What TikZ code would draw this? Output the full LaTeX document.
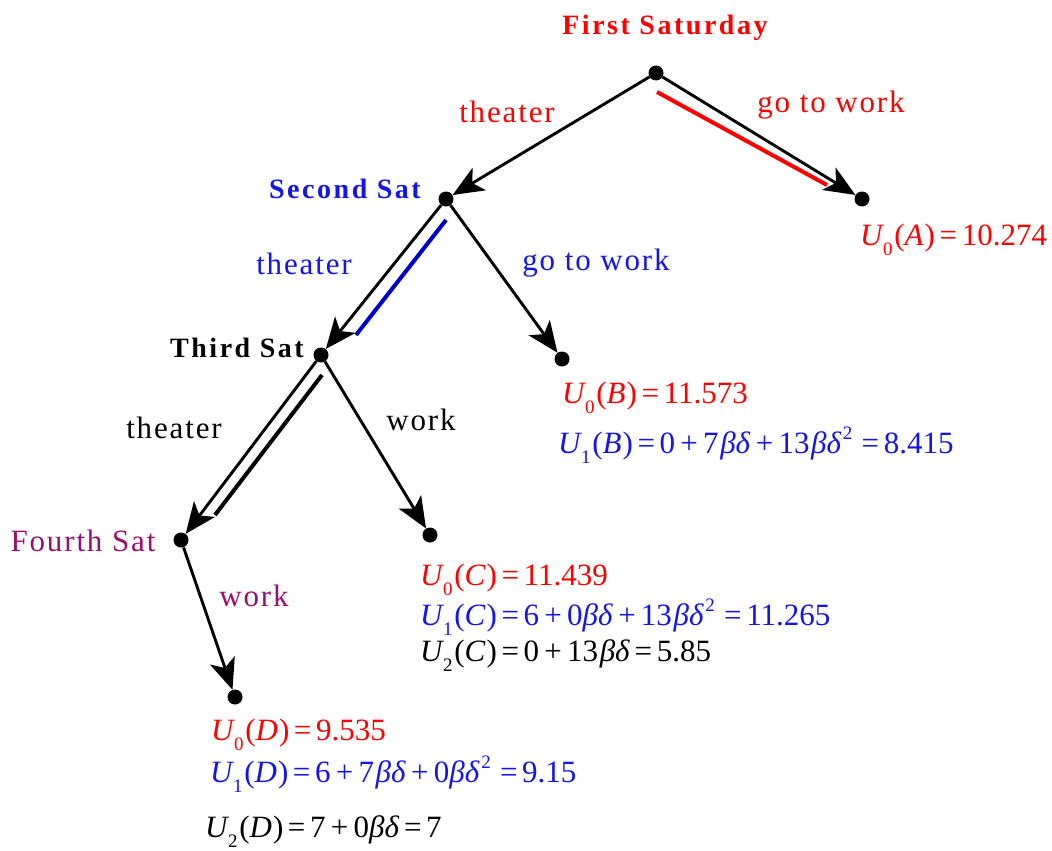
\documentclass[tikz,border=0pt]{standalone}
\usepackage{fontspec}
\setmainfont{Liberation Serif}
\usetikzlibrary{arrows.meta}
\definecolor{myred}{RGB}{255,0,0}
\definecolor{myblue}{RGB}{20,20,235}
\definecolor{hlblue}{RGB}{0,0,200}
\definecolor{mypurple}{RGB}{155,15,110}
\newcommand{\Ux}[2]{\textit{U}\kern-0.04em\raisebox{-0.33em}{\fontsize{19}{19}\selectfont #1}\kern0.06em(\textit{#2}\kern0.03em)}
\newcommand{\Eq}{\kern0.15em=\kern0.15em}
\newcommand{\Pl}{\kern0.17em+\kern0.17em}
\newcommand{\BD}{\textit{βδ}}
\newcommand{\BDD}{\textit{βδ}\kern0.05em\raisebox{0.45em}{\fontsize{19}{19}\selectfont 2}\kern0.15em}
\begin{document}
\begin{tikzpicture}[x=1pt,y=-1pt,
  dot/.style={circle,fill=black,inner sep=0pt,minimum size=15pt},
  conn/.style={line width=2.9pt,-{Stealth[length=31pt,width=26pt,inset=8pt]}},
  hl/.style={line width=4pt},
  lab/.style={anchor=base,inner sep=0pt,font=\fontsize{31}{36}\selectfont\addfontfeature{LetterSpace=6}},
  blab/.style={anchor=base,inner sep=0pt,font=\fontsize{28}{34}\selectfont\bfseries\addfontfeature{LetterSpace=9}},
  frm/.style={anchor=base west,inner sep=0pt,font=\fontsize{31}{37}\selectfont}]
\useasboundingbox (0,0) rectangle (1052,851);
% dots
\node[dot] (r) at (656,73) {};
\node[dot] (a) at (862,199) {};
\node[dot] (s2) at (446,199) {};
\node[dot] (b) at (562,359) {};
\node[dot] (s3) at (321,355) {};
\node[dot] (c) at (430,535) {};
\node[dot] (s4) at (181,540) {};
\node[dot] (d) at (235,697) {};
% connectors
\draw[conn] (r) -- (s2);
\draw[conn] (r) -- (a);
\draw[conn] (s2) -- (s3);
\draw[conn] (s2) -- (b);
\draw[conn] (s3) -- (s4);
\draw[conn] (s3) -- (c);
\draw[conn] (s4) -- (d);
% highlights
\coordinate (h1a) at (657,92); \coordinate (h1b) at (827,185);
\coordinate (h2a) at (446,220); \coordinate (h2b) at (356,335);
\coordinate (h3a) at (322,375); \coordinate (h3b) at (215,515);
\draw[hl,myred] (h1a) -- (h1b);
\draw[hl,hlblue] (h2a) -- (h2b);
\draw[hl,black] (h3a) -- (h3b);
% labels
\node[blab,myred] (t1) at (665,35) {First Saturday};
\node[lab,myred] (l1) at (507,122) {theater};
\node[lab,myred] (l2) at (831,112) {go to work};
\node[blab,myblue] (t2) at (345,198) {Second Sat};
\node[lab,myblue] (l3) at (304,274) {theater};
\node[lab,myblue] (l4) at (596,270) {go to work};
\node[blab,black] (t3) at (237,357) {Third Sat};
\node[lab,black] (l5) at (174,438) {theater};
\node[lab,black] (l6) at (421,430) {work};
\node[lab,mypurple] (t4) at (83,551) {Fourth Sat};
\node[lab,mypurple] (l7) at (254,606) {work};
% formulas
\node[frm,myred] (fa) at (860,245) {\Ux{0}{A}\Eq10.274};
\node[frm,myred] (fb0) at (562,403) {\Ux{0}{B}\Eq11.573};
\node[frm,myblue] (fb1) at (558,453) {\Ux{1}{B}\Eq0\Pl7\kern0.05em\BD\Pl13\kern0.05em\BDD\Eq8.415};
\node[frm,myred] (fc0) at (420,585) {\Ux{0}{C}\Eq11.439};
\node[frm,myblue] (fc1) at (420,625) {\Ux{1}{C}\Eq6\Pl0\BD\Pl13\kern0.05em\BDD\Eq11.265};
\node[frm,black] (fc2) at (420,661) {\Ux{2}{C}\Eq0\Pl13\kern0.05em\BD\Eq5.85};
\node[frm,myred] (fd0) at (211,740) {\Ux{0}{D}\Eq9.535};
\node[frm,myblue] (fd1) at (210,782) {\Ux{1}{D}\Eq6\Pl7\kern0.05em\BD\Pl0\BDD\Eq9.15};
\node[frm,black] (fd2) at (205,837) {\Ux{2}{D}\Eq7\Pl0\BD\Eq7};
\end{tikzpicture}
\end{document}
